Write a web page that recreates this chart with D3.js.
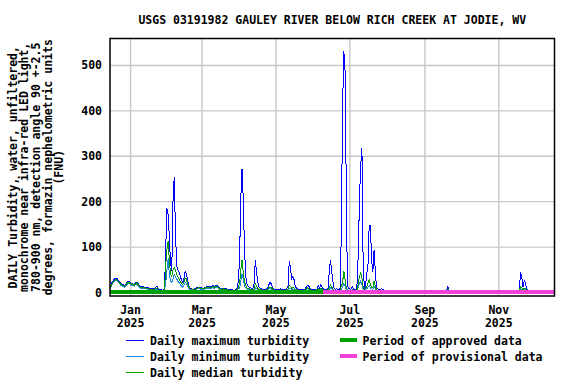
<!DOCTYPE html>
<html lang="en">
	<head>
		<meta charset="utf-8">
		<title>USGS 03191982 Gauley River turbidity</title>
		<script type="text/javascript" src="https://cdn.jsdelivr.net/npm/d3@7"></script>
		<style type="text/css">
			body {
				margin: 0;
				background-color: white;
			}
			text {
				font-family: "DejaVu Sans Mono", monospace;
				font-weight: bold;
				font-size: 11.5px;
				fill: black;
			}
		</style>
	</head>
	<body>
		<script type="text/javascript">

			//Daily values, one per day starting 2024-12-15
			var maxDec24 = [13,18,24,28,30,31,30,27,24,20,18,17,16,18,23,25,24];
			var maxJan = [22,20,19,18,21,23,20,16,14,13,13,12,12,11,10,10,9,9,8,8,9,12,13,8,6,6,5,6,8,95,185];
			var maxFeb = [172,120,65,48,200,254,140,60,50,45,36,28,22,30,47,42,28,16,10,8,7,7,8,9,11,12,12,11];
			var maxMar = [10,9,10,12,13,14,13,12,14,15,13,14,16,15,11,10,9,9,10,9,8,7,6,6,6,6,5,5,6,10,25];
			var maxApr = [78,207,272,207,100,38,20,14,12,10,9,8,20,72,45,22,12,9,8,7,7,7,8,10,16,22,20,12,8,7];
			var maxMay = [7,6,6,7,8,7,6,6,6,8,15,70,55,30,35,28,14,9,8,7,7,6,6,6,8,12,16,15,9,7,6];
			var maxJun = [6,6,7,8,15,10,17,12,8,7,6,6,10,45,71,49,25,10,7,8,6,6,10,133,397,532,500,247,15,8];
			var maxJul = [8,7,13,7,6,6,20,86,207,280,318,64,10,15,42,60,148,148,71,45,93,50,12,8,7,6,9,7,6,5,5];
			var maxAug = [4,4,5,4,4,4,3,4,4,5,4,4,4,4,3,4,4,4,5,4,4,4,4,3,4,4,4,4,5,4,4];
			var maxSep = [4,4,4,4,3,4,4,4,4,4,4,4,4,3,4,4,4,4,5,13,5,4,4,4,3,4,4,4,4,4];
			var maxOct = [4,4,4,4,3,4,4,4,4,4,4,3,4,4,4,4,4,4,4,3,4,4,4,4,4,4,4,3,4,4,4];
			var maxNov = [4,4,4,3,4,4,4,4,4,4,3,4,4,4,4,4,4,7,46,33,12,26,22,8,5,4,4,4,4,4];

			var minDec24 = [9,13,19,23,25,26,25,22,19,16,14,13,12,14,18,20,19];
			var minJan = [18,16,15,14,17,19,16,12,10,9,9,8,8,8,7,7,6,6,5,5,6,7,8,5,4,4,3,4,5,20,50];
			var minFeb = [75,40,25,22,30,40,35,30,25,22,18,14,12,15,22,20,14,9,6,5,5,5,6,7,8,8,8,7];
			var minMar = [7,7,7,8,9,10,9,8,10,11,9,10,12,11,8,7,6,6,7,6,5,5,4,4,4,4,3,3,4,5,8];
			var minApr = [10,25,40,30,15,10,8,7,6,6,5,5,6,10,9,7,5,5,5,4,4,4,5,5,7,9,8,6,5,4];
			var minMay = [4,4,4,4,5,4,4,4,4,5,6,10,9,7,8,7,5,5,5,4,4,4,4,4,5,6,8,7,5,4,4];
			var minJun = [4,4,4,5,6,5,7,6,5,4,4,4,5,7,10,8,6,4,4,4,4,3,4,8,12,20,15,8,5,4];
			var minJul = [4,4,5,4,4,3,5,12,20,25,18,8,5,7,8,12,15,10,8,7,14,9,5,4,3,3,4,3,3,3,3];
			var minAug = [3,3,3,3,3,3,2,3,3,3,3,3,3,3,2,3,3,3,3,3,3,3,3,2,3,3,3,3,3,3,3];
			var minSep = [3,3,3,3,2,3,3,3,3,3,3,3,3,2,3,3,3,3,3,5,3,3,3,3,2,3,3,3,3,3];
			var minOct = [3,3,3,3,2,3,3,3,3,3,3,2,3,3,3,3,3,3,3,2,3,3,3,3,3,3,3,2,3,3,3];
			var minNov = [3,3,3,2,3,3,3,3,3,3,2,3,3,3,3,3,3,4,8,7,5,6,6,4,3,3,3,3,3,3];

			var medDec24 = [11,15,21,25,27,28,27,24,21,18,16,15,14,16,20,22,21];
			var medJan = [20,18,17,16,19,21,18,14,12,11,11,10,10,9,8,8,7,7,6,6,7,9,10,6,5,5,4,5,6,60,95];
			var medFeb = [113,70,40,35,50,55,50,40,35,30,25,20,17,22,32,30,20,12,8,6,6,6,7,8,9,10,10,9];
			var medMar = [8,8,8,10,11,12,11,10,12,13,11,12,14,13,9,8,7,7,8,7,6,6,5,5,5,5,4,4,5,7,12];
			var medApr = [20,50,71,45,25,15,10,9,8,7,7,6,8,20,14,9,7,6,6,5,5,5,6,7,10,12,11,8,6,5];
			var medMay = [5,5,5,5,6,5,5,5,5,6,8,16,14,10,12,10,7,6,6,5,5,5,5,5,6,8,10,9,6,5,5];
			var medJun = [5,5,5,6,8,6,9,7,6,5,5,5,6,10,16,12,8,5,5,5,5,4,5,15,20,48,30,12,6,5];
			var medJul = [5,5,6,5,5,4,7,20,35,43,30,12,6,10,12,20,28,18,12,10,25,14,6,5,4,4,5,4,4,4,4];
			var medAug = [3,3,4,3,3,3,3,3,3,4,3,3,3,3,3,3,3,3,4,3,3,3,3,3,3,3,3,3,4,3,3];
			var medSep = [3,3,3,3,3,3,3,3,3,3,3,3,3,3,3,3,3,3,4,7,4,3,3,3,3,3,3,3,3,3];
			var medOct = [3,3,3,3,3,3,3,3,3,3,3,3,3,3,3,3,3,3,3,3,3,3,3,3,3,3,3,3,3,3,3];
			var medNov = [3,3,3,3,3,3,3,3,3,3,3,3,3,3,3,3,3,5,12,10,7,9,8,5,4,3,3,3,3,3];

			var firstDay = new Date(2024, 11, 15);
			var approvedEnd = new Date(2025, 5, 9);

			var yTicks = [0, 100, 200, 300, 400, 500];
			var xTicks = [new Date(2025, 0, 1), new Date(2025, 2, 1), new Date(2025, 4, 1),
				new Date(2025, 6, 1), new Date(2025, 8, 1), new Date(2025, 10, 1)];

			var title = "USGS 03191982 GAULEY RIVER BELOW RICH CREEK AT JODIE, WV";
			var yTitle = ["DAILY Turbidity, water, unfiltered,",
				"monochrome near infra-red LED light,",
				"780-900 nm, detection angle 90 +-2.5",
				"degrees, formazin nephelometric units",
				"(FNU)"];

			var maxVals = [].concat(maxDec24, maxJan, maxFeb, maxMar, maxApr, maxMay, maxJun, maxJul, maxAug, maxSep, maxOct, maxNov);
			var minVals = [].concat(minDec24, minJan, minFeb, minMar, minApr, minMay, minJun, minJul, minAug, minSep, minOct, minNov);
			var medVals = [].concat(medDec24, medJan, medFeb, medMar, medApr, medMay, medJun, medJul, medAug, medSep, medOct, medNov);

			var toPoints = function(vals) {
				return vals.map(function(v, i) {
					return { date: d3.timeDay.offset(firstDay, i), value: v };
				});
			};

			//Width and height
			var w = 576;
			var h = 384;
			var plotL = 110, plotR = 554.5, plotT = 38.5, plotB = 296;

			var svg = d3.select("body")
						.append("svg")
						.attr("width", w)
						.attr("height", h);

			var xScale = d3.scaleTime()
						.domain([new Date(2024, 11, 15), new Date(2025, 11, 17)])
						.range([plotL, plotR]);

			var yScale = d3.scaleLinear()
						.domain([-7.7, 559.3])
						.range([plotB, plotT]);

			svg.append("clipPath")
				.attr("id", "plotclip")
				.append("rect")
				.attr("x", plotL)
				.attr("y", plotT)
				.attr("width", plotR - plotL)
				.attr("height", plotB - plotT);

			//Grid
			svg.selectAll("line.hgrid")
				.data(yTicks.slice(1))
				.enter()
				.append("line")
				.attr("class", "hgrid")
				.attr("x1", plotL)
				.attr("x2", plotR)
				.attr("y1", function(d) { return yScale(d); })
				.attr("y2", function(d) { return yScale(d); })
				.attr("stroke", "#c8c8c8")
				.attr("stroke-width", 1.4);

			svg.selectAll("line.vgrid")
				.data(xTicks)
				.enter()
				.append("line")
				.attr("class", "vgrid")
				.attr("x1", function(d) { return xScale(d); })
				.attr("x2", function(d) { return xScale(d); })
				.attr("y1", plotT)
				.attr("y2", plotB)
				.attr("stroke", "#c8c8c8")
				.attr("stroke-width", 1.4);

			var lineGenerator = d3.line()
				.x(function(d) { return xScale(d.date); })
				.y(function(d) { return yScale(d.value); });

			var plot = svg.append("g").attr("clip-path", "url(#plotclip)");

			var series = [
				{ vals: maxVals, color: "#0000ff" },
				{ vals: minVals, color: "#1f86d6" },
				{ vals: medVals, color: "#00a000" }
			];

			series.forEach(function(s) {
				plot.append("path")
					.attr("d", lineGenerator(toPoints(s.vals)))
					.attr("fill", "none")
					.attr("stroke", s.color)
					.attr("stroke-width", 1)
					.attr("shape-rendering", "crispEdges");
			});

			//Approved / provisional bars
			var barY = Math.floor(yScale(0)) - 2;
			plot.append("rect")
				.attr("x", xScale(firstDay))
				.attr("y", barY)
				.attr("width", Math.round(xScale(approvedEnd) - xScale(firstDay)))
				.attr("height", 4)
				.attr("fill", "#00a000")
				.attr("shape-rendering", "crispEdges");

			plot.append("rect")
				.attr("x", Math.round(xScale(approvedEnd)))
				.attr("y", barY)
				.attr("width", plotR - Math.round(xScale(approvedEnd)))
				.attr("height", 4)
				.attr("fill", "#f040d8")
				.attr("shape-rendering", "crispEdges");

			//Frame
			svg.append("rect")
				.attr("x", plotL)
				.attr("y", plotT)
				.attr("width", plotR - plotL)
				.attr("height", plotB - plotT)
				.attr("fill", "none")
				.attr("stroke", "black")
				.attr("stroke-width", 1.5);

			//Y tick labels
			svg.selectAll("text.ytick")
				.data(yTicks)
				.enter()
				.append("text")
				.attr("class", "ytick")
				.attr("x", 102)
				.attr("y", function(d) { return yScale(d) + 4; })
				.attr("text-anchor", "end")
				.text(function(d) { return d; });

			//X tick labels
			var fmtMonth = d3.timeFormat("%b");
			var fmtYear = d3.timeFormat("%Y");
			var xt = svg.selectAll("g.xtick")
				.data(xTicks)
				.enter()
				.append("g")
				.attr("class", "xtick");
			xt.append("text")
				.attr("x", function(d) { return xScale(d); })
				.attr("y", 314)
				.attr("text-anchor", "middle")
				.text(function(d) { return fmtMonth(d); });
			xt.append("text")
				.attr("x", function(d) { return xScale(d); })
				.attr("y", 327)
				.attr("text-anchor", "middle")
				.text(function(d) { return fmtYear(d); });

			//Title
			svg.append("text")
				.attr("x", (plotL + plotR) / 2)
				.attr("y", 24)
				.attr("text-anchor", "middle")
				.text(title);

			//Y axis title
			svg.selectAll("text.ytitle")
				.data(yTitle)
				.enter()
				.append("text")
				.attr("class", "ytitle")
				.attr("text-anchor", "middle")
				.attr("transform", function(d, i) {
					return "translate(" + (16.5 + i * 11.7) + "," + ((plotT + plotB) / 2) + ") rotate(-90)";
				})
				.text(function(d) { return d; });

			//Legend
			var legendLines = [
				{ label: "Daily maximum turbidity", color: "#0000ff" },
				{ label: "Daily minimum turbidity", color: "#1f86d6" },
				{ label: "Daily median turbidity", color: "#00a000" }
			];
			var legendBars = [
				{ label: "Period of approved data", color: "#00a000" },
				{ label: "Period of provisional data", color: "#f040d8" }
			];

			legendLines.forEach(function(d, i) {
				var yy = 340 + i * 16;
				svg.append("line")
					.attr("x1", 126)
					.attr("x2", 143.5)
					.attr("y1", yy)
					.attr("y2", yy)
					.attr("stroke", d.color)
					.attr("stroke-width", 1)
					.attr("shape-rendering", "crispEdges");
				svg.append("text")
					.attr("x", 150)
					.attr("y", yy + 4.5)
					.text(d.label);
			});

			legendBars.forEach(function(d, i) {
				var yy = 340 + i * 16;
				svg.append("rect")
					.attr("x", 339.5)
					.attr("y", yy - 2)
					.attr("width", 17.5)
					.attr("height", 4)
					.attr("fill", d.color)
					.attr("shape-rendering", "crispEdges");
				svg.append("text")
					.attr("x", 362.5)
					.attr("y", yy + 4.5)
					.text(d.label);
			});

		</script>
	</body>
</html>
